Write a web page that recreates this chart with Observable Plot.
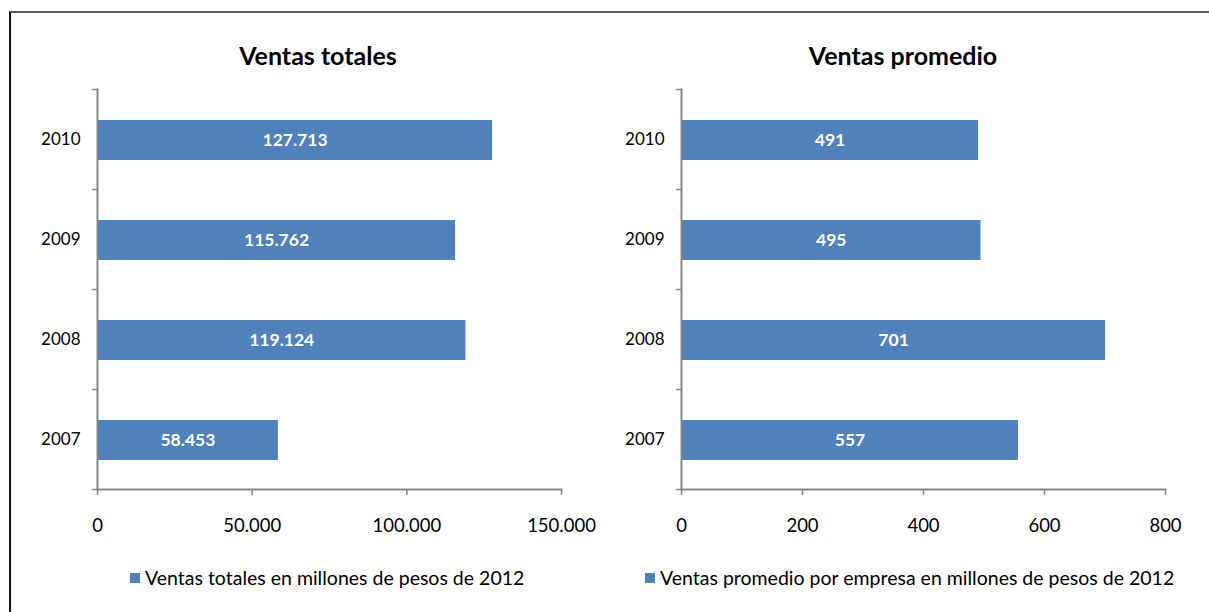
<!DOCTYPE html>
<html>
<head>
<meta charset="utf-8">
<script src="https://cdn.jsdelivr.net/npm/d3@7"></script>
<script src="https://cdn.jsdelivr.net/npm/@observablehq/plot@0.6"></script>
<style>
  html, body { margin: 0; padding: 0; background: #fff; }
  body { width: 1209px; height: 612px; overflow: hidden; position: relative; font-family: Lato, "Open Sans", sans-serif; }
  #frame { position: absolute; left: 9px; top: 11px; width: 1400px; height: 800px; border-top: 2px solid #5a5a5a; border-left: 2px solid #111; }
  .title { position: absolute; font-weight: bold; font-size: 25px; line-height: 30px; color: #000; transform: translateX(-50%); white-space: nowrap; }
  .legend { position: absolute; font-size: 19.5px; line-height: 24px; color: #000; white-space: nowrap; display: flex; align-items: center; }
  .legend .sw { display: inline-block; width: 10px; height: 10px; background: #4F81BD; margin-right: 5px; }
  .plot { position: absolute; top: 70px; }
</style>
</head>
<body>
<div id="frame"></div>
<div class="title" id="t1" style="left:318px; top:40px;"></div>
<div class="title" id="t2" style="left:903px; top:40px;"></div>
<div class="plot" id="p1" style="left:0px;"></div>
<div class="plot" id="p2" style="left:584px;"></div>
<div class="legend" id="l1" style="left:130px; top:566px;"><span class="sw"></span><span class="tx"></span></div>
<div class="legend" id="l2" style="left:645px; top:566px;"><span class="sw"></span><span class="tx"></span></div>
<script>
const years = [2007, 2008, 2009, 2010];
const ventasTotales = [58453, 119124, 115762, 127713];
const ventasPromedio = [557, 701, 495, 491];
const titles = ["Ventas totales", "Ventas promedio"];
const legendLabels = ["Ventas totales en millones de pesos de 2012", "Ventas promedio por empresa en millones de pesos de 2012"];
const ticksTotales = [0, 50000, 100000, 150000];
const ticksPromedio = [0, 200, 400, 600, 800];

const locale = d3.formatLocale({decimal: ",", thousands: ".", grouping: [3], currency: ["", ""]});
const fmt = locale.format(",d");
const barColor = "#4F81BD";
const axisColor = "#868686";

function makePlot(values, ticks, width) {
  const data = years.map((y, i) => ({year: y, value: values[i]}));
  const boundaries = [years[0] - 0.5, ...years.map(y => y + 0.5)];
  return Plot.plot({
    width: width,
    height: 470,
    marginLeft: 97,
    marginRight: 39,
    marginTop: 19,
    marginBottom: 51,
    style: {fontFamily: "Lato, 'Open Sans', sans-serif", background: "transparent", overflow: "visible"},
    x: {domain: [ticks[0], ticks[ticks.length - 1]]},
    y: {domain: [years[0] - 0.5, years[years.length - 1] + 0.5]},
    marks: [
      Plot.rectX(data, {x1: 0, x2: "value", y1: d => d.year - 0.21, y2: d => d.year + 0.19, fill: barColor}),
      Plot.text(data, {x: d => d.value / 2, y: "year", dy: 1, text: d => fmt(d.value), fill: "#fff", fontWeight: "bold", fontSize: 17.5}),
      Plot.axisY({ticks: years, tickFormat: d => String(d), tickSize: 0, tickPadding: 17, fontSize: 17, fill: "#000", label: null}),
      Plot.axisY({ticks: boundaries, tickFormat: () => "", tickSize: 5, stroke: axisColor, strokeWidth: 1.5, label: null}),
      Plot.axisX({ticks: ticks, tickFormat: fmt, tickSize: 6, tickPadding: 23, fontSize: 18.5, fill: "#000", stroke: axisColor, strokeWidth: 1.5, label: null}),
      Plot.frame({anchor: "left", stroke: axisColor, strokeWidth: 2}),
      Plot.frame({anchor: "bottom", stroke: axisColor, strokeWidth: 2})
    ]
  });
}

document.getElementById("t1").textContent = titles[0];
document.getElementById("t2").textContent = titles[1];
document.querySelector("#l1 .tx").textContent = legendLabels[0];
document.querySelector("#l2 .tx").textContent = legendLabels[1];
document.getElementById("p1").appendChild(makePlot(ventasTotales, ticksTotales, 600));
document.getElementById("p2").appendChild(makePlot(ventasPromedio, ticksPromedio, 620));
</script>
</body>
</html>
